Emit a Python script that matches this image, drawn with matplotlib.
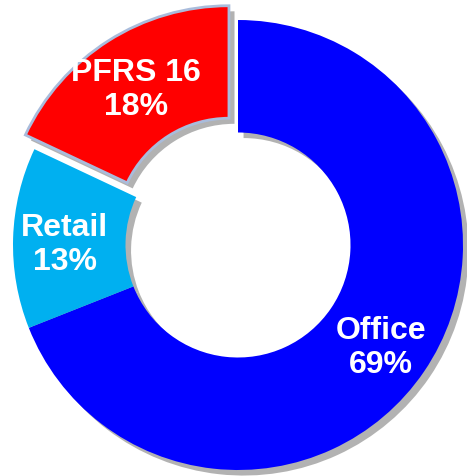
import matplotlib
matplotlib.use("Agg")
import matplotlib.pyplot as plt
import matplotlib.patheffects as pe
from matplotlib.patches import Wedge
import numpy as np

# data
labels = ["Office", "Retail", "PFRS 16"]
shares = [69, 13, 18]
colors = ["#0000FF", "#00B0F0", "#FF0000"]
explode = [0, 0, 0.075]

plt.rcParams['font.family'] = ['Liberation Sans', 'DejaVu Sans']

fig = plt.figure(figsize=(4.67, 4.76), dpi=100)
ax = fig.add_axes([0, 0, 1, 1])

wedges, _ = ax.pie(shares, colors=colors, explode=explode, startangle=90,
                   counterclock=False, radius=1.0,
                   wedgeprops=dict(width=0.5, linewidth=0, zorder=3))

# soft drop shadow behind the whole ring
for w in wedges:
    sh = Wedge(w.center, w.r, w.theta1, w.theta2, width=w.width,
               facecolor='none', edgecolor='none', zorder=1)
    sh.set_path_effects([pe.SimplePatchShadow(offset=(4, -4), shadow_rgbFace='#7f7f7f', alpha=0.6)])
    ax.add_patch(sh)

# outline on the exploded slice
wedges[2].set_edgecolor("#A9BCDC")
wedges[2].set_linewidth(2.0)

# labels in the middle of each ring segment
for w, lab, v in zip(wedges, labels, shares):
    ang = np.deg2rad((w.theta1 + w.theta2) / 2)
    cx, cy = w.center
    r = 0.77
    ax.text(cx + r * np.cos(ang), cy + r * np.sin(ang) - 0.025, f"{lab}\n{v}%",
            ha='center', va='center', color='white', fontsize=23,
            fontweight='bold', linespacing=1.15, zorder=5)

ax.set_xlim(-238 / 225, (467 - 238) / 225)
ax.set_ylim(-(476 - 245) / 225, 245 / 225)
ax.set_aspect('auto')
ax.axis('off')

fig.savefig("out.png", dpi=100)
